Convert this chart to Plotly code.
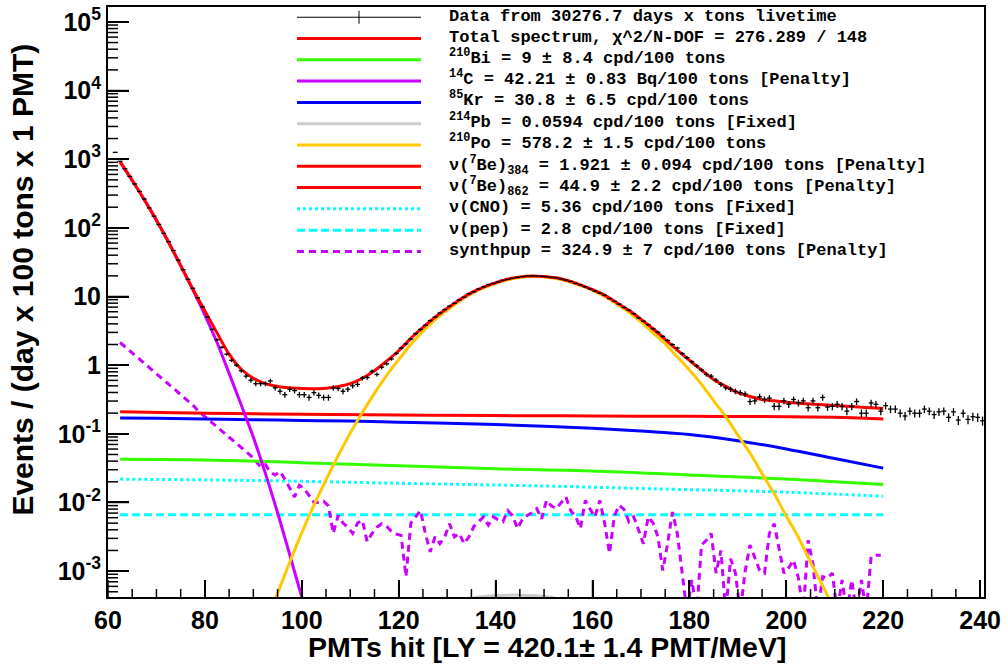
import numpy as np
import plotly.graph_objects as go

# ---------------- data (log10 of Events) ----------------
# data points: 1-PMT bins, first bin centre 61.5
data_x0 = 61.5
data_log10 = [
    3.10, 2.97, 2.86, 2.75, 2.64, 2.53, 2.42, 2.29, 2.17, 2.05,
    1.92, 1.80, 1.67, 1.53, 1.39, 1.25, 1.12, 0.98, 0.85, 0.70,
    0.52, 0.37, 0.26, 0.16, 0.07, 0.00, -0.08, -0.16, -0.22, -0.27,
    -0.27, -0.27, -0.23, -0.33, -0.38, -0.43, -0.35, -0.37, -0.43, -0.43,
    -0.47, -0.40, -0.44, -0.47, -0.47, -0.33, -0.34, -0.38, -0.35, -0.30,
    -0.28, -0.19, -0.18, -0.09, -0.135, -0.03, 0.02, 0.09, 0.17, 0.25,
    0.31, 0.38, 0.46, 0.52, 0.58, 0.65, 0.70, 0.76, 0.81, 0.86,
    0.90, 0.95, 0.99, 1.04, 1.07, 1.11, 1.14, 1.17, 1.19, 1.21,
    1.235, 1.25, 1.265, 1.28, 1.29, 1.30, 1.30, 1.30, 1.295, 1.29,
    1.28, 1.27, 1.255, 1.24, 1.22, 1.19, 1.17, 1.14, 1.11, 1.08,
    1.05, 1.02, 0.97, 0.93, 0.89, 0.84, 0.80, 0.75, 0.69, 0.64,
    0.59, 0.53, 0.48, 0.42, 0.36, 0.30, 0.25, 0.17, 0.11, 0.05,
    -0.01, -0.07, -0.135, -0.16, -0.22, -0.28, -0.33, -0.35, -0.38, -0.40,
    -0.42, -0.53, -0.52, -0.46, -0.50, -0.48, -0.60, -0.60, -0.52, -0.57,
    -0.50, -0.55, -0.52, -0.62, -0.52, -0.62, -0.47, -0.61, -0.60, -0.57,
    -0.60, -0.67, -0.60, -0.53, -0.70, -0.70, -0.55, -0.57, -0.67, -0.59,
    -0.64, -0.64, -0.70, -0.74, -0.67, -0.70, -0.70, -0.64, -0.67, -0.72,
    -0.68, -0.67, -0.76, -0.68, -0.80, -0.70, -0.79, -0.75, -0.76, -0.81,
]

# fitted curves sampled every 2.5 PMTs
total_x0 = 62.5
total_log10 = [
    2.96, 2.69, 2.41, 2.11, 1.79, 1.45, 1.11, 0.79, 0.47, 0.16,
    -0.06, -0.19, -0.27, -0.31, -0.33, -0.34, -0.345, -0.335, -0.31, -0.27,
    -0.19, -0.08, 0.06, 0.21, 0.39, 0.55, 0.70, 0.83, 0.95, 1.057,
    1.138, 1.20, 1.255, 1.286, 1.30, 1.293, 1.272, 1.23, 1.17, 1.10,
    1.02, 0.91, 0.80, 0.67, 0.53, 0.376, 0.218, 0.071, -0.072, -0.21,
    -0.31, -0.40, -0.456, -0.50, -0.52, -0.54, -0.553, -0.566, -0.577, -0.588,
    -0.60, -0.61, -0.62, -0.63,
]

c14_x0 = 62.5
c14_log10 = [2.96, 2.69, 2.41, 2.11, 1.79, 1.45, 1.10, 0.73, 0.33, -0.12,
             -0.58, -1.05, -1.58, -2.15, -2.76, -3.38, -4.0]

po_x0 = 92.5
po_log10 = [
    -3.79, -3.32, -2.87, -2.44, -2.04, -1.67, -1.32, -0.99, -0.69, -0.41,
    -0.15, 0.08, 0.30, 0.49, 0.66, 0.80, 0.93, 1.04, 1.125, 1.19,
    1.245, 1.277, 1.29, 1.284, 1.262, 1.22, 1.16, 1.09, 1.00, 0.89,
    0.77, 0.63, 0.47, 0.31, 0.12, -0.07, -0.28, -0.52, -0.75, -1.02,
    -1.28, -1.58, -1.87, -2.20, -2.51, -2.87, -3.21, -3.59,
]

be862_x = [62.5, 80, 100, 120, 140, 160, 180, 200, 210, 215, 220]
be862_log10 = [-0.68, -0.70, -0.715, -0.725, -0.735, -0.74, -0.745, -0.75, -0.76, -0.77, -0.785]

kr_x = [62.5, 70, 80, 90, 100, 110, 120, 130, 140, 150, 160, 170, 180, 190, 200, 210, 220]
kr_log10 = [-0.77, -0.775, -0.785, -0.795, -0.805, -0.815, -0.83, -0.845, -0.865,
            -0.89, -0.92, -0.96, -1.01, -1.10, -1.22, -1.36, -1.50]

bi_x = [62.5, 80, 100, 120, 140, 160, 180, 200, 220]
bi_log10 = [-1.37, -1.38, -1.42, -1.465, -1.51, -1.54, -1.60, -1.66, -1.74]

cno_x = [62.5, 90, 120, 150, 172, 200, 220]
cno_log10 = [-1.66, -1.68, -1.72, -1.76, -1.80, -1.85, -1.91]

pep_x = [62.5, 220]
pep_log10 = [-2.18, -2.18]

pb_x = [120, 125, 130, 135, 137.5, 140, 142.5, 145, 147.5, 150, 152.5, 155, 160, 165]
pb_log10 = [-3.9, -3.75, -3.55, -3.40, -3.37, -3.355, -3.35, -3.35, -3.355, -3.37, -3.40, -3.48, -3.65, -3.9]

# synthpup: one value per PMT bin, first at 62.5 (values below the axis floor go off-scale)
synth_x0 = 62.5
synth_log10 = [
    0.33, 0.27, 0.21, 0.15, 0.09, 0.03, -0.03, -0.09, -0.15, -0.21,
    -0.28, -0.34, -0.40, -0.46, -0.52, -0.58, -0.66, -0.72, -0.78, -0.84,
    -0.90, -0.96, -1.02, -1.08, -1.14, -1.20, -1.26, -1.32, -1.40, -1.48,
    -1.45, -1.56, -1.60, -1.55, -1.66, -1.78, -1.92, -1.75, -1.80, -1.90,
    -2.00, -2.00, -1.98, -2.05, -2.45, -2.19, -2.30, -2.36, -2.45, -2.30,
    -2.26, -2.57, -2.45, -2.36, -2.31, -2.35, -2.42, -2.46, -2.48, -3.08,
    -2.30, -2.21, -2.12, -2.45, -2.72, -2.50, -2.60, -2.50, -2.31, -2.50,
    -2.45, -2.60, -2.50, -2.35, -2.28, -2.21, -2.33, -2.21, -2.25, -2.28,
    -2.12, -2.19, -2.38, -2.25, -2.19, -2.15, -2.09, -2.24, -1.97, -2.05,
    -2.09, -2.00, -1.92, -2.12, -2.20, -2.38, -1.97, -2.10, -2.21, -1.97,
    -2.30, -2.74, -2.20, -2.04, -2.10, -2.28, -2.21, -2.40, -2.60, -2.21,
    -2.30, -2.50, -2.99, -2.60, -2.14, -2.45, -3.00, -3.60, -3.13, -3.60,
    -2.62, -2.55, -2.45, -3.03, -2.70, -3.60, -2.82, -3.03, -3.60, -3.00,
    -2.62, -2.80, -2.99, -3.03, -2.45, -2.31, -2.65, -3.03, -2.95, -2.84,
    -3.10, -3.60, -2.55, -2.90, -3.60, -3.08, -3.10, -3.03, -3.60, -3.13,
    -3.60, -3.13, -3.60, -3.13, -3.60, -2.79, -2.77, -2.77,
]

X_RANGE = [60, 240.8]
Y_LOG_RANGE = [-3.377, 5.217]
x_ticks = [60, 80, 100, 120, 140, 160, 180, 200, 220, 240]
x_minor_ticks = [v for v in range(60, 241, 5) if v % 20 != 0]
y_tickvals = [1e-3, 1e-2, 1e-1, 1, 10, 1e2, 1e3, 1e4, 1e5]
y_ticktext = ["10<sup>-3</sup>", "10<sup>-2</sup>", "10<sup>-1</sup>", "1", "10",
              "10<sup>2</sup>", "10<sup>3</sup>", "10<sup>4</sup>", "10<sup>5</sup>"]
y_minor_ticks = [m * 10.0 ** e for e in range(-4, 6) for m in range(2, 10)
                 if 10 ** Y_LOG_RANGE[0] < m * 10.0 ** e < 10 ** Y_LOG_RANGE[1]]

legend_labels = [
    "Data from 30276.7 days x tons livetime",
    "Total spectrum, \u03c7^2/N-DOF = 276.289 / 148",
    "<sup>210</sup>Bi = 9 \u00b1 8.4 cpd/100 tons",
    "<sup>14</sup>C = 42.21 \u00b1 0.83 Bq/100 tons [Penalty]",
    "<sup>85</sup>Kr = 30.8 \u00b1 6.5 cpd/100 tons",
    "<sup>214</sup>Pb = 0.0594 cpd/100 tons [Fixed]",
    "<sup>210</sup>Po = 578.2 \u00b1 1.5 cpd/100 tons",
    "\u03bd(<sup>7</sup>Be)<sub>384</sub> = 1.921 \u00b1 0.094 cpd/100 tons [Penalty]",
    "\u03bd(<sup>7</sup>Be)<sub>862</sub> = 44.9 \u00b1 2.2 cpd/100 tons [Penalty]",
    "\u03bd(CNO) = 5.36 cpd/100 tons [Fixed]",
    "\u03bd(pep) = 2.8 cpd/100 tons [Fixed]",
    "synthpup = 324.9 \u00b1 7 cpd/100 tons [Penalty]",
]

# ---------------- styles ----------------
RED, GREEN, VIOLET, BLUE = "#FF0000", "#33FF00", "#CC00FF", "#0000FF"
GRAY, ORANGE, CYAN = "#CCCCCC", "#FFC800", "#00FFFF"
legend_styles = [
    dict(color="black", width=1, dash="solid"),
    dict(color=RED, width=3, dash="solid"),
    dict(color=GREEN, width=3, dash="solid"),
    dict(color=VIOLET, width=3, dash="solid"),
    dict(color=BLUE, width=3, dash="solid"),
    dict(color=GRAY, width=3, dash="solid"),
    dict(color=ORANGE, width=3, dash="solid"),
    dict(color=RED, width=3, dash="solid"),
    dict(color=RED, width=3, dash="solid"),
    dict(color=CYAN, width=3, dash="dot"),
    dict(color=CYAN, width=3, dash="8px,4px"),
    dict(color=VIOLET, width=3, dash="7px,5px"),
]

W, H = 1007, 664
L, R, T, B = 108, 23, 4, 67
PW, PH = W - L - R, H - T - B


def px(xp):
    return (xp - L) / PW


def py(yp):
    return (H - B - yp) / PH


def yfrac(v):
    return float((np.log10(v) - Y_LOG_RANGE[0]) / (Y_LOG_RANGE[1] - Y_LOG_RANGE[0]))


def grid(x0, step, n):
    return x0 + step * np.arange(n)


def lin(v):
    return 10.0 ** np.asarray(v, dtype=float)


fig = go.Figure()

def curve(x, ylog, color, dash="solid", width=3, shape="spline"):
    fig.add_trace(go.Scatter(x=x, y=lin(ylog), mode="lines",
                             line=dict(color=color, width=width, dash=dash, shape=shape),
                             hoverinfo="skip", showlegend=False))

curve(pb_x, pb_log10, GRAY)
curve(pep_x, pep_log10, CYAN, dash="8px,4px", shape="linear")
curve(cno_x, cno_log10, CYAN, dash="dot")
curve(grid(synth_x0, 1.0, len(synth_log10)), synth_log10, VIOLET, dash="7px,5px", shape="linear")
curve(bi_x, bi_log10, GREEN)
curve(kr_x, kr_log10, BLUE)
curve(be862_x, be862_log10, RED)
curve(grid(c14_x0, 2.5, len(c14_log10)), c14_log10, VIOLET)
curve(grid(po_x0, 2.5, len(po_log10)), po_log10, ORANGE)
curve(grid(total_x0, 2.5, len(total_log10)), total_log10, RED)

# data with Poisson-like statistical errors
data_y = lin(data_log10)
data_err = 0.06 * np.sqrt(data_y)
fig.add_trace(go.Scatter(
    x=grid(data_x0, 1.0, len(data_log10)), y=data_y, mode="markers",
    marker=dict(size=1, color="black"),
    error_y=dict(type="data", array=data_err, color="black", thickness=1.3, width=0),
    error_x=dict(type="constant", value=0.5, color="black", thickness=1.3, width=0),
    hoverinfo="skip", showlegend=False))

shapes = []
annotations = []

# ---------------- ROOT-style inside tick marks (paper coordinates of the plot frame) ----------------
TICK = dict(color="black", width=1.5)
xspan = X_RANGE[1] - X_RANGE[0]
for v in x_ticks:
    f = (v - X_RANGE[0]) / xspan
    shapes.append(dict(type="line", xref="paper", yref="paper", x0=f, x1=f, y0=0, y1=17 / PH, line=TICK))
for v in x_minor_ticks:
    f = (v - X_RANGE[0]) / xspan
    shapes.append(dict(type="line", xref="paper", yref="paper", x0=f, x1=f, y0=0, y1=8 / PH, line=TICK))
for v in y_tickvals:
    shapes.append(dict(type="line", xref="paper", yref="paper", x0=0, x1=21 / PW,
                       y0=yfrac(v), y1=yfrac(v), line=TICK))
for v in y_minor_ticks:
    shapes.append(dict(type="line", xref="paper", yref="paper", x0=0, x1=10 / PW,
                       y0=yfrac(v), y1=yfrac(v), line=TICK))

# ---------------- manual ROOT-style legend ----------------
row0, drow = 14.3, 21.4
for i, (lab, st) in enumerate(zip(legend_labels, legend_styles)):
    yc = row0 + i * drow
    shapes.append(dict(type="line", xref="paper", yref="paper",
                       x0=px(297), x1=px(421), y0=py(yc), y1=py(yc),
                       line=dict(color=st["color"], width=st["width"], dash=st["dash"])))
    if i == 0:
        shapes.append(dict(type="line", xref="paper", yref="paper",
                           x0=px(359), x1=px(359), y0=py(yc - 6.5), y1=py(yc + 6.5),
                           line=dict(color="black", width=1)))
    shift = 3 if ("<sup>" in lab and "<sub>" not in lab) else 1
    annotations.append(dict(text=lab, xref="paper", yref="paper", x=px(447), y=py(yc),
                            xanchor="left", yanchor="middle", showarrow=False, yshift=shift,
                            font=dict(family="Liberation Mono", size=17, color="black", weight="bold")))

# axis titles
annotations.append(dict(text="PMTs hit [LY = 420.1\u00b1 1.4 PMT/MeV]", xref="paper", yref="paper",
                        x=px(547), y=py(647), xanchor="center", yanchor="middle", showarrow=False,
                        font=dict(family="Liberation Sans", size=28.5, color="black", weight="bold")))
annotations.append(dict(text="Events / (day x 100 tons x 1 PMT)", xref="paper", yref="paper",
                        x=px(23), y=py(278), xanchor="center", yanchor="middle", showarrow=False,
                        textangle=-90,
                        font=dict(family="Liberation Sans", size=30, color="black", weight="bold")))

tickfont = dict(family="Liberation Sans", size=25, color="black", weight="bold")
fig.update_layout(
    width=W, height=H, margin=dict(l=L, r=R, t=T, b=B),
    paper_bgcolor="white", plot_bgcolor="white",
    shapes=shapes, annotations=annotations, showlegend=False,
    xaxis=dict(range=X_RANGE, tickmode="array", tickvals=x_ticks,
               ticks="inside", ticklen=17, tickwidth=1.5, tickcolor="black",
               showline=True, linecolor="black", linewidth=2, mirror=True,
               showgrid=False, zeroline=False, tickfont=tickfont),
    yaxis=dict(type="log", range=Y_LOG_RANGE, tickmode="array",
               tickvals=y_tickvals, ticktext=y_ticktext,
               ticks="inside", ticklen=21, tickwidth=1.5, tickcolor="black",
               showline=True, linecolor="black", linewidth=2, mirror=True,
               showgrid=False, zeroline=False, tickfont=tickfont),
)

fig.write_html("out.html", config={"displayModeBar": False})
